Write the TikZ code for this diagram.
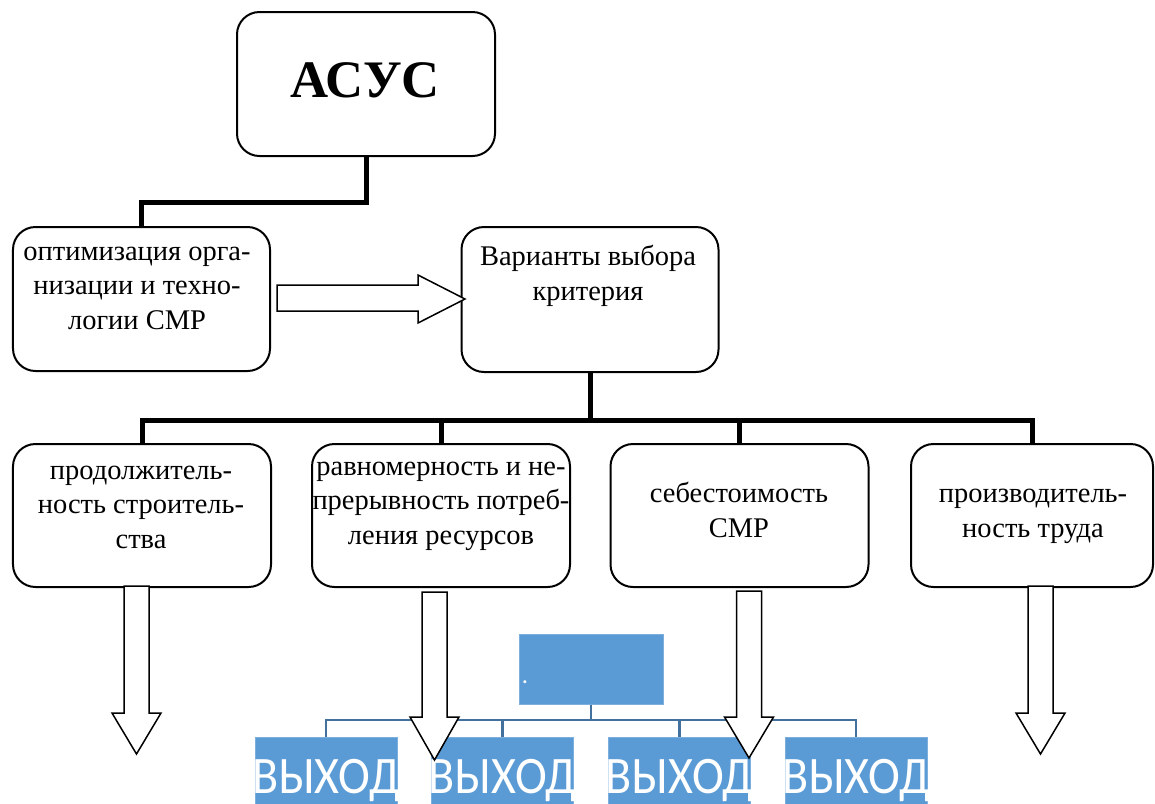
\documentclass[tikz,border=0pt]{standalone}
\usepackage{fontspec}
\setmainfont{Liberation Serif}
\newfontfamily\smartfont{Carlito}
\usetikzlibrary{calc}

\tikzset{
  box/.style={draw, line width=0.4mm, rounded corners=4.5mm, minimum width=51.4mm,
    minimum height=28.8mm, inner sep=0pt},
  boxtext/.style={anchor=base, align=center, inner sep=0pt,
    font=\fontsize{16.2}{19.6}\selectfont},
  conn/.style={line width=1mm},
  blockarrow/.style={draw, fill=white, line width=0.3mm, line join=miter},
  smartbox/.style={fill=smartblue, draw=smartblue!80!white, line width=0.2mm,
    minimum width=28.4mm, minimum height=14.8mm, inner sep=0pt},
  smartconn/.style={draw=smartline, line width=0.45mm},
  outtext/.style={anchor=base, inner sep=0pt, text=white,
    font=\smartfont\fontsize{30}{30}\selectfont}
}
\definecolor{smartblue}{HTML}{5B9BD5}
\definecolor{smartline}{HTML}{41719C}

\begin{document}
\begin{tikzpicture}[x=0.2mm, y=-0.2mm]
\useasboundingbox (0,0) rectangle (1155,803);

%% boxes
\node[box, minimum width=51.6mm] (asus) at (366,84) {};
\node[box] (opt) at (141.5,299) {};
\node[box, minimum height=29mm] (var) at (590,299.5) {};
\node[box, minimum width=51.6mm, minimum height=28.6mm] (b1) at (142,515.5) {};
\node[box, minimum width=51.6mm, minimum height=28.6mm] (b2) at (441,515.5) {};
\node[box, minimum width=51.6mm, minimum height=28.6mm] (b3) at (739.5,515.5) {};
\node[box, minimum width=48.4mm, minimum height=28.6mm] (b4) at (1032,515.5) {};

%% box texts (base = last line)
\node[anchor=base, inner sep=0pt, font=\fontsize{30}{30}\selectfont\bfseries] (asus-t) at (365,97) {АСУС};
\node[boxtext] (opt-t) at (137,329) {оптимизация орга-\\низации и техно-\\логии СМР};
\node[boxtext] (var-t) at (588,300) {Варианты выбора\\критерия};
\node[boxtext] (b1-t) at (141,548) {продолжитель-\\ность строитель-\\ства};
\node[boxtext] (b2-t) at (441,544) {равномерность и не-\\прерывность потреб-\\ления ресурсов};
\node[boxtext] (b3-t) at (739,537) {себестоимость\\СМР};
\node[boxtext] (b4-t) at (1033,537) {производитель-\\ность труда};

%% connectors
\draw[conn] (asus.south) -- (asus.south |- 0,202) -| (opt.north);
\foreach \b in {b1,b2,b3,b4}
  \draw[conn] (var.south) -- (var.south |- 0,420) -| (\b.north);

%% smartart block
\node[smartbox, minimum width=28.8mm, minimum height=14mm] (sa) at (591,669) {};
\node[anchor=base, inner sep=0pt, text=white, font=\smartfont\fontsize{14}{14}\selectfont] (sa-dot) at (525,683) {.};
\foreach \i/\x in {1/326,2/502.5,3/679.5,4/856} {
  \node[smartbox] (o\i) at (\x,774) {};
  \node[outtext] (o\i-t) at (\x,793) {\scalebox{0.91}[1]{ВЫХОД}};
  \draw[smartconn] (sa.south) -- (sa.south |- 0,720) -| (o\i.north);
}

%% block arrows
\draw[blockarrow] (277,285) -- (418,285) -- (418,275) -- (465,299) -- (418,323)
  -- (418,311) -- (277,311) -- cycle;
\foreach \cx/\top/\head/\tip in {136.5/586/713/754, 434.5/592/717/760,
    749/591/717/758, 1040.5/586/713/754}
  \draw[blockarrow] (\cx-12.5,\top) -- (\cx+12.5,\top) -- (\cx+12.5,\head)
    -- (\cx+24.5,\head) -- (\cx,\tip) -- (\cx-24.5,\head) -- (\cx-12.5,\head)
    -- cycle;

\end{tikzpicture}
\end{document}
